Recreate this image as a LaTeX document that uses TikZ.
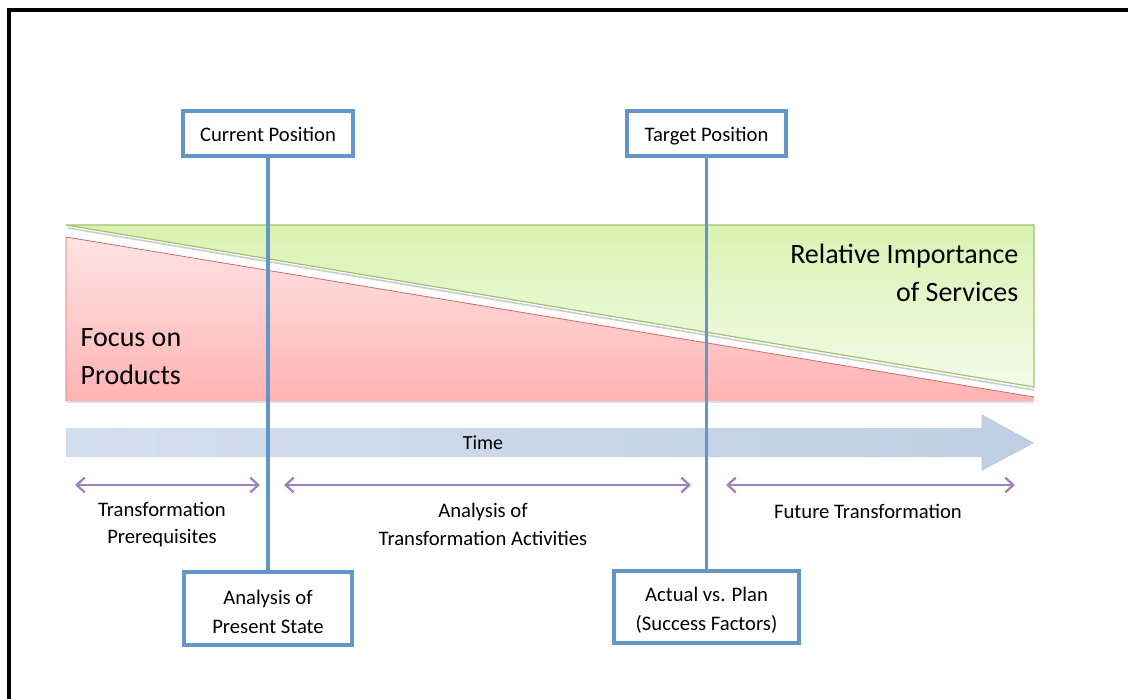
\documentclass[tikz,border=0pt]{standalone}
\usepackage{fontspec}
\setmainfont{Carlito}
\usetikzlibrary{arrows.meta}

\definecolor{posblue}{HTML}{6496CA}
\definecolor{spanpurple}{HTML}{9C83BF}
\definecolor{greentop}{HTML}{DAF2B2}
\definecolor{greenbot}{HTML}{F3FBE8}
\definecolor{greenedge}{HTML}{9DC36B}
\definecolor{redtop}{HTML}{FFE3E3}
\definecolor{redbot}{HTML}{FFB3B3}
\definecolor{rededge}{HTML}{D06A6A}
\definecolor{timeleft}{HTML}{D3DFED}
\definecolor{timeright}{HTML}{BFCFE3}
\definecolor{timeedge}{HTML}{B4C6DC}

\begin{document}
\begin{tikzpicture}
[x=0.75pt,y=-0.75pt,%
  posbox/.style={shape=rectangle,draw=posblue,line width=2.6pt,fill=white,%
    align=center,inner sep=2pt,font=\fontsize{15.5}{22}\selectfont},%
  onebox/.style={posbox,text height=14pt,text depth=2pt},%
  posline/.style={draw=posblue,line width=2.6pt},%
  span/.style={draw=spanpurple,line width=1.7pt,%
    {Straight Barb[length=6pt,width=11pt]}-{Straight Barb[length=6pt,width=11pt]}},%
  spanlabel/.style={align=center,font=\fontsize{15.5}{20.5}\selectfont},%
  bigtext/.style={font=\fontsize{21}{28.5}\selectfont}]
\useasboundingbox (0,0) rectangle (1128,699);
\fill[white] (0,0) rectangle (1128,699);
% frame
\draw[line width=2.3pt] (9,699) -- (9,10) -- (1128,10);

% services and products
\shade[top color=greentop,bottom color=greenbot] (66,225) -- (1034,225) -- (1034,387) -- cycle;
\draw[greenedge,line width=0.9pt] (66,225) -- (1034,225) -- (1034,387) -- cycle;
\draw[black!20,line width=1.2pt] (68,228) -- (1034,390);
\shade[top color=redtop,bottom color=redbot] (66,237) -- (1034,397) -- (1034,401) -- (66,401) -- cycle;
\draw[rededge,line width=0.6pt] (66,401) -- (66,237) -- (1034,397);
\draw[black!12,line width=1.2pt] (67,402) -- (1034,402);
\node[bigtext,anchor=west,align=left] (prod) at (76,357) {Focus on\\Products};
\node[bigtext,anchor=east,align=right] (serv) at (1023,273) {Relative Importance\\of Services};

% time arrow
\shade[left color=timeleft,right color=timeright] (66,428) -- (982,428) -- (982,415) -- (1033,443) -- (982,470) -- (982,457) -- (66,457) -- cycle;
\draw[timeedge,line width=0.5pt] (982,428) -- (982,415) -- (1033,443) -- (982,470) -- (982,457);
\node[font=\fontsize{15}{18}\selectfont] (time) at (483,443) {Time};

% phases
\coordinate (p1a) at (75,485);
\coordinate (p1b) at (260,485);
\coordinate (p2a) at (284,485);
\coordinate (p2b) at (691,485);
\coordinate (p3a) at (726,485);
\coordinate (p3b) at (1015,485);
\draw[span] (p1a) -- (p1b);
\draw[span] (p2a) -- (p2b);
\draw[span] (p3a) -- (p3b);
\node[spanlabel] (prereq) at (162,524.5) {Transformation\\Prerequisites};
\node[spanlabel] (activ) at (483,524.5) {Analysis of\\Transformation Activities};
\node[spanlabel] (future) at (868,511) {Future Transformation};

% positions
\node[onebox,minimum width=127.5pt,minimum height=33.75pt] (cur) at (268,133.5) {Current Position};
\node[onebox,minimum width=119.25pt,minimum height=33.75pt] (tgt) at (706.5,133.5) {Target Position};
\node[posbox,minimum width=126pt,minimum height=54.75pt] (pres) at (268,608.5) {\rule{0pt}{16pt}Analysis of\\Present State};
\node[posbox,minimum width=138.75pt,minimum height=54pt] (act) at (706.5,607) {\rule{0pt}{16pt}Actual vs. Plan\\(Success Factors)};
\draw[posline] (cur) -- (pres);
\draw[posline] (tgt) -- (act);
\end{tikzpicture}
\end{document}
